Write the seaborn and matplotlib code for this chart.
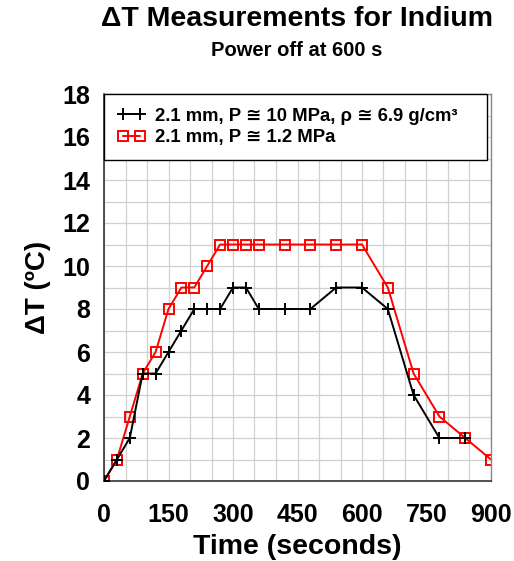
import numpy as np
import pandas as pd
import matplotlib
matplotlib.use("Agg")
import matplotlib.pyplot as plt
from matplotlib.ticker import MultipleLocator
import seaborn as sns

# time (s) and delta T (C) for the two runs
time_hp = [0, 30, 60, 90, 120, 150, 180, 210, 240, 270, 300, 330, 360, 420, 480,
           540, 600, 660, 720, 780, 840]
dt_hp = [0, 1, 2, 5, 5, 6, 7, 8, 8, 8, 9, 9, 8, 8, 8, 9, 9, 8, 4, 2, 2]

time_lp = [0, 30, 60, 90, 120, 150, 180, 210, 240, 270, 300, 330, 360, 420, 480,
           540, 600, 660, 720, 780, 840, 900]
dt_lp = [0, 1, 3, 5, 6, 8, 9, 9, 10, 11, 11, 11, 11, 11, 11, 11, 11, 9, 5, 3, 2, 1]

label_hp = "2.1 mm, P \u2245 10 MPa, \u03c1 \u2245 6.9 g/cm\u00b3"
label_lp = "2.1 mm, P \u2245 1.2 MPa"

sns.set_style("white")
plt.rcParams['font.family'] = ['Liberation Sans', 'DejaVu Sans']
plt.rcParams['font.weight'] = 'bold'
for k in ['text.color', 'axes.labelcolor', 'xtick.color', 'ytick.color']:
    plt.rcParams[k] = 'black'

fig = plt.figure(figsize=(5.14, 5.61), dpi=100)
ax = fig.add_axes([104 / 514, 1 - 481 / 561, 387 / 514, 387 / 561])

sns.lineplot(x=time_hp, y=dt_hp, color="black", marker="+", markersize=9,
             markeredgecolor="black", markeredgewidth=1.4, linewidth=1.4,
             ax=ax, label=label_hp, zorder=3)
sns.lineplot(x=time_lp, y=dt_lp, color="#ff0000", marker="s", markersize=7,
             markerfacecolor="none", markeredgecolor="#ff0000",
             markeredgewidth=1.4, linewidth=1.4, ax=ax, label=label_lp, zorder=2)

leg = ax.legend(loc="upper left", bbox_to_anchor=(0.0, 0.0, 0.99, 1.0),
                mode="expand", fontsize=13.3, numpoints=2,
                frameon=True, fancybox=False, edgecolor="black", framealpha=1,
                handlelength=1.5, handletextpad=0.5, borderpad=0.75,
                labelspacing=0.25, borderaxespad=0.0)
leg.get_frame().set_linewidth(1.0)
leg.set_zorder(5)

ax.set_xlim(0, 900)
ax.set_ylim(0, 18)
ax.set_xticks(np.arange(0, 901, 150))
ax.set_yticks(np.arange(0, 19, 2))
ax.xaxis.set_minor_locator(MultipleLocator(50))
ax.yaxis.set_minor_locator(MultipleLocator(1))
ax.grid(which="both", color="#d0d0d0", linewidth=0.9)
ax.set_axisbelow(True)
ax.tick_params(axis="both", which="both", length=0, labelsize=18)
ax.tick_params(axis="y", pad=10)
ax.tick_params(axis="x", pad=16)
for lab in ax.get_xticklabels() + ax.get_yticklabels():
    lab.set_fontweight("bold")

for side in ["left", "bottom"]:
    ax.spines[side].set_color("#333333")
    ax.spines[side].set_linewidth(1.2)
for side in ["top", "right"]:
    ax.spines[side].set_color("#888888")
    ax.spines[side].set_linewidth(1.0)

ax.set_xlabel("Time (seconds)", fontsize=20.5, fontweight="bold", labelpad=5)
ax.set_ylabel("\u0394T (\u00baC)", fontsize=20, fontweight="bold", labelpad=8)

fig.text(297 / 514, 1 - 19 / 561, "\u0394T Measurements for Indium",
         ha="center", va="center", fontsize=20.5, fontweight="bold")
fig.text(297 / 514, 1 - 50 / 561, "Power off at 600 s",
         ha="center", va="center", fontsize=14.5, fontweight="bold")

fig.savefig("out.png", dpi=100)
